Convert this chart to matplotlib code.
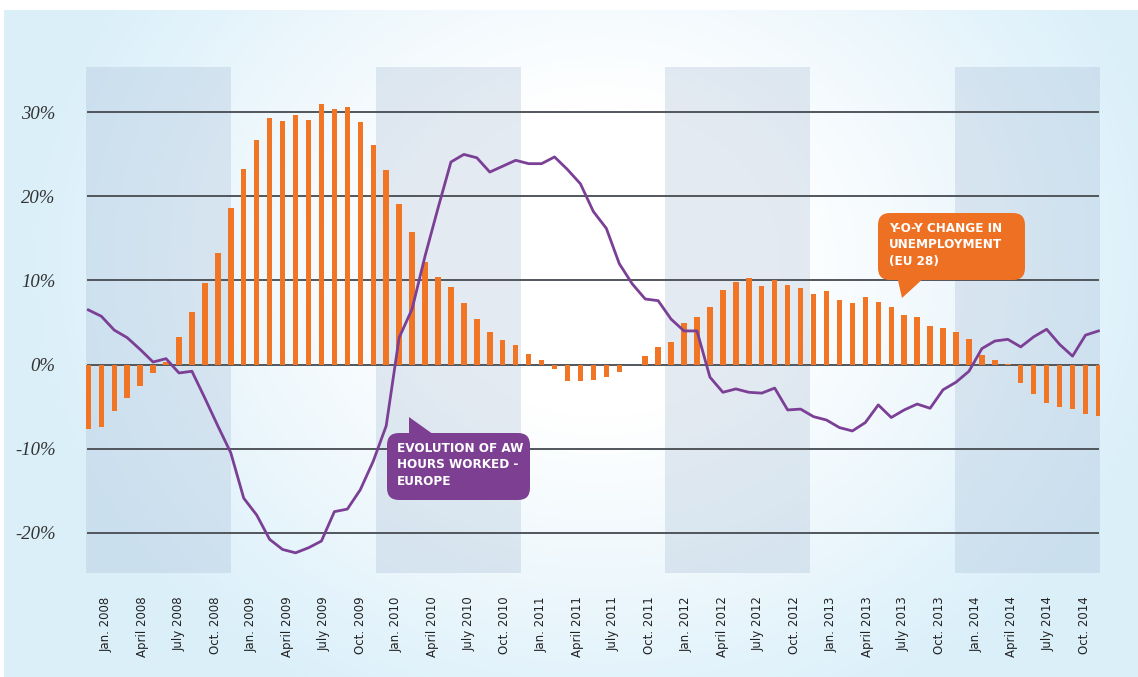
import numpy as np
import matplotlib
matplotlib.use("Agg")
import matplotlib.pyplot as plt
from matplotlib import font_manager
from matplotlib.patches import FancyBboxPatch, Polygon

# ---- data (monthly) ----
unemployment_yoy = [
    -7.7, -7.4, -5.5, -4.0, -2.5, -1.0, 0.3, 3.25, 6.3, 9.7, 13.3, 18.6,
    23.3, 26.7, 29.3, 29.0, 29.7, 29.1, 31.0, 30.4, 30.6, 28.8, 26.1, 23.1,
    19.1, 15.75, 12.2, 10.4, 9.2, 7.3, 5.4, 3.9, 2.9, 2.3, 1.2, 0.6,
    -0.5, -1.9, -2.0, -1.8, -1.5, -0.9, -0.05, 1.07, 2.1, 2.7, 4.9, 5.7,
    6.9, 8.9, 9.8, 10.3, 9.4, 10.0, 9.5, 9.05, 8.4, 8.7, 7.7, 7.3,
    8.05, 7.4, 6.9, 5.95, 5.7, 4.6, 4.3, 3.9, 3.0, 1.15, 0.6, 0.1,
    -2.2, -3.5, -4.6, -5.1, -5.3, -5.9, -6.1,
]
hours_worked = [
    6.5, 5.75, 4.1, 3.2, 1.8, 0.3, 0.7, -1.0, -0.8, -4.0, -7.3, -10.5,
    -15.9, -17.9, -20.8, -22.0, -22.4, -21.8, -21.0, -17.5, -17.2, -14.9, -11.5, -7.3,
    3.2, 6.6, 12.9, 18.6, 24.1, 25.0, 24.6, 22.9, 23.6, 24.3, 23.9, 23.9,
    24.7, 23.2, 21.5, 18.2, 16.2, 12.0, 9.6, 7.8, 7.6, 5.4, 4.0, 4.0,
    -1.5, -3.3, -2.9, -3.3, -3.4, -2.8, -5.4, -5.3, -6.2, -6.6, -7.5, -7.9,
    -6.9, -4.8, -6.3, -5.4, -4.7, -5.2, -3.0, -2.1, -0.8, 1.9, 2.8, 3.0,
    2.1, 3.3, 4.2, 2.4, 1.0, 3.5, 4.0,
]
years = list(range(2008, 2015))
quarters = ["Jan.", "April", "July", "Oct."]
tick_labels = [f"{q} {y}" for y in years for q in quarters]
y_values = [30, 20, 10, 0, -10, -20]
y_labels = [f"{v}%" for v in y_values]

# colours
C_BAR = "#f07524"
C_LINE = "#7b3f95"
C_BOX_OR = "#ee7023"
C_BOX_PU = "#7d3f92"
C_GRID = "#50565b"
C_BAND = "#9fb6d0"

# condensed bold font for the callouts, if there is one
fonts = font_manager.fontManager.ttflist
has_cond = any(f.name == "DejaVu Sans" and f.stretch == "condensed" for f in fonts)
cfont_kw = dict(family="DejaVu Sans", fontweight="bold")
if has_cond:
    cfont_kw.update(fontstretch="condensed", fontsize=9.6)
else:
    cfont_kw.update(fontsize=8.6)

W, H = 1138, 677
fig = plt.figure(figsize=(W / 100, H / 100), dpi=100)

# ---- background gradient ----
bg = fig.add_axes([0, 0, 1, 1], zorder=0)
yy, xx = np.mgrid[0:H, 0:W]
d = np.sqrt(((xx - 600) / 600) ** 2 + ((yy - 260) / 520) ** 2)
t = np.clip((d - 0.3) / 0.65, 0, 1)[..., None]
edge = np.array([0.86, 0.94, 0.98])
img = (1 - t) * 1.0 + t * edge
img[:10, :] = 1.0
img[:, :4] = 1.0
bg.imshow(img, extent=(0, W, H, 0), aspect="auto")
bg.set_xlim(0, W)
bg.set_ylim(H, 0)
bg.axis("off")

# ---- main axes: year bands, grid, tick labels ----
ax = fig.add_axes([86 / W, (H - 573) / H, 1014 / W, 506 / H], zorder=1)
ax.set_facecolor("none")
ax.set_xlim(0, 84)
ax.set_ylim(-24.8, 35.4)
for k in (0, 24, 48, 72):
    ax.axvspan(k, k + 12, color=C_BAND, alpha=0.28, lw=0)
for v in y_values:
    ax.axhline(v, xmin=0.002, xmax=0.998, color=C_GRID, lw=1.4)

ax.set_yticks(y_values, y_labels)
for lab in ax.get_yticklabels():
    lab.set_fontfamily("Liberation Serif")
    lab.set_fontstyle("italic")
ax.tick_params(axis="y", length=0, pad=22, labelsize=13.5, labelcolor="#333333")

tick_pos = [1.7 + 3 * i for i in range(len(tick_labels))]
ax.set_xticks(tick_pos, tick_labels, rotation=90)
ax.tick_params(axis="x", length=0, pad=17, labelsize=8.5, labelcolor="#222222")
for s in ax.spines.values():
    s.set_visible(False)

# ---- data axes ----
ax2 = ax.twiny()
idx = np.arange(len(unemployment_yoy))
ax2.set_xlim(-0.18, 78.12)
ax2.bar(idx, unemployment_yoy, width=0.42, color=C_BAR, zorder=2)
ax2.plot(idx, hours_worked, color=C_LINE, lw=2.0, zorder=3, solid_joinstyle="round")
ax2.axis("off")

# ---- callouts ----
ov = fig.add_axes([0, 0, 1, 1], zorder=5)
ov.set_xlim(0, W)
ov.set_ylim(H, 0)
ov.axis("off")
ov.patch.set_visible(False)

ov.add_patch(FancyBboxPatch((878, 213), 147, 67, boxstyle="round,pad=0,rounding_size=12",
                            facecolor=C_BOX_OR, edgecolor="none"))
ov.add_patch(Polygon([(897, 276), (926, 276), (902, 298)], closed=True,
                     facecolor=C_BOX_OR, edgecolor="none"))
ov.text(889, 222, "Y-O-Y CHANGE IN\nUNEMPLOYMENT\n(EU 28)", color="white",
        va="top", ha="left", linespacing=1.35, **cfont_kw)

ov.add_patch(FancyBboxPatch((387, 433), 143, 67, boxstyle="round,pad=0,rounding_size=12",
                            facecolor=C_BOX_PU, edgecolor="none"))
ov.add_patch(Polygon([(409, 417), (409, 437), (437, 437)], closed=True,
                     facecolor=C_BOX_PU, edgecolor="none"))
ov.text(397, 442, "EVOLUTION OF AW\nHOURS WORKED -\nEUROPE", color="white",
        va="top", ha="left", linespacing=1.35, **cfont_kw)

fig.savefig("out.png", dpi=100)
